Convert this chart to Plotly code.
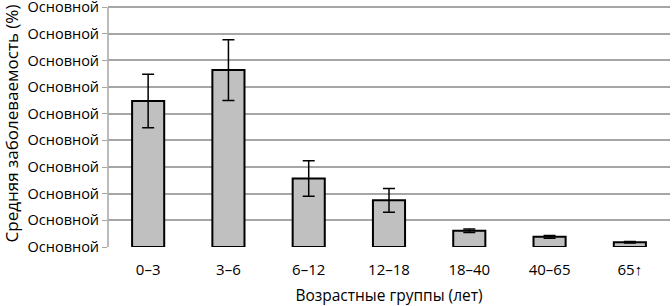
import plotly.graph_objects as go

categories = ["0–3", "3–6", "6–12", "12–18", "18–40", "40–65", "65↑"]
values = [5.48, 6.64, 2.57, 1.75, 0.61, 0.38, 0.18]
errors = [1.0, 1.14, 0.67, 0.45, 0.07, 0.05, 0.03]
tick_vals = [0, 1, 2, 3, 4, 5, 6, 7, 8, 9]
tick_text = ["Основной"] * 10

font_family = "Open Sans"

fig = go.Figure()
fig.add_trace(go.Bar(
    x=categories,
    y=values,
    marker=dict(color="#c0c0c0", line=dict(color="black", width=2)),
    error_y=dict(type="data", array=errors, visible=True, color="black", thickness=1.5, width=6),
    width=0.4,
))

fig.update_layout(
    width=672,
    height=306,
    margin=dict(l=108, r=2, t=0, b=59),
    paper_bgcolor="white",
    plot_bgcolor="white",
    showlegend=False,
    font=dict(family=font_family, size=13, color="black"),
    xaxis=dict(
        title=dict(text="Возрастные группы (лет)", font=dict(size=15.5), standoff=14),
        showgrid=False,
        showline=False,
        ticks="",
        ticklabelstandoff=12,
        tickfont=dict(size=15),
        automargin=False,
    ),
    yaxis=dict(
        title=dict(text="Средняя заболеваемость (%)", font=dict(size=17), standoff=4),
        range=[0, 9.27],
        tickvals=tick_vals,
        ticktext=tick_text,
        showgrid=True,
        gridcolor="#a6a6a6",
        gridwidth=1.5,
        showline=False,
        zeroline=False,
        ticks="outside",
        ticklen=5,
        tickcolor="#a6a6a6",
        tickfont=dict(size=14.5),
        ticklabeloverflow="allow",
        automargin=False,
    ),
)

# vertical axis line drawn only up to the top gridline
fig.add_shape(type="line", xref="paper", yref="y", x0=0, x1=0, y0=0, y1=tick_vals[-1],
              line=dict(color="#a6a6a6", width=1.5))

fig.write_html("out.html", config={"displayModeBar": False},
               post_script="document.body.style.margin='0';")
